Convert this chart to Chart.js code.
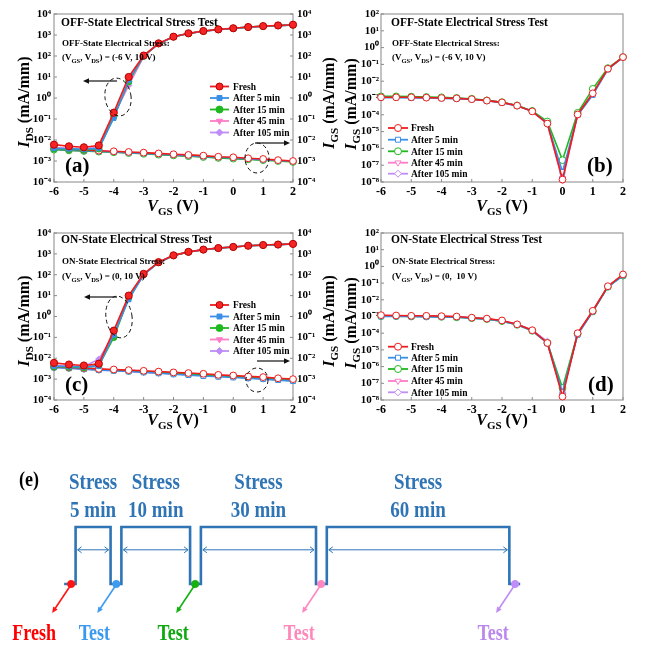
<!DOCTYPE html>
<html><head><meta charset="utf-8">
<script src="https://cdn.jsdelivr.net/npm/chart.js@4/dist/chart.umd.min.js"></script>
<style>
html,body{margin:0;padding:0;background:#fff;width:646px;height:647px;overflow:hidden}
#wrap{position:relative;width:646px;height:647px}
canvas{position:absolute;left:0;top:0}
</style></head><body>
<div id="wrap">
<canvas id="ca" width="646" height="647"></canvas>
<canvas id="cb" width="646" height="647"></canvas>
<canvas id="cc" width="646" height="647"></canvas>
<canvas id="cd" width="646" height="647"></canvas>
<canvas id="ce" width="646" height="647"></canvas>
</div>
<script>
// ---------------- DATA ----------------
const vgs = [-6,-5.5,-5,-4.5,-4,-3.5,-3,-2.5,-2,-1.5,-1,-0.5,0,0.5,1,1.5,2];
const xTicks = [-6,-5,-4,-3,-2,-1,0,1,2];
const idsTicks = [1e-4,1e-3,1e-2,1e-1,1e0,1e1,1e2,1e3,1e4];
const igsTicks = [1e-8,1e-7,1e-6,1e-5,1e-4,1e-3,1e-2,1e-1,1e0,1e1,1e2];
const seriesNames = ['Fresh','After 5 min','After 15 min','After 45 min','After 105 min'];

// (a) OFF-state stress: I_DS (left axis)
const offIdsFresh = [6.0e-3,5.0e-3,4.5e-3,5.5e-3,0.20,10,105,400,830,1200,1550,1850,2100,2400,2650,2850,3100];
const offIds5     = [4.0e-3,3.8e-3,3.6e-3,4.0e-3,0.11,7,100,390,820,1180,1520,1820,2060,2360,2600,2800,3000];
const offIds15    = [3.8e-3,3.6e-3,3.4e-3,3.8e-3,0.13,6,98,390,820,1180,1520,1820,2060,2360,2600,2800,3000];
const offIds45    = [4.0e-3,3.8e-3,3.6e-3,4.2e-3,0.14,4.5,95,385,815,1170,1510,1810,2050,2350,2600,2800,3000];
const offIds105   = [4.2e-3,4.0e-3,3.8e-3,4.5e-3,0.15,4.0,95,385,815,1170,1510,1810,2050,2350,2600,2800,3000];
// (a) OFF-state stress: I_GS (right axis)
const offIgsDsFresh = [4.0e-3,3.7e-3,3.4e-3,3.1e-3,2.9e-3,2.7e-3,2.5e-3,2.3e-3,2.1e-3,1.95e-3,1.8e-3,1.6e-3,1.5e-3,1.35e-3,1.25e-3,1.1e-3,1.0e-3];
const offIgsDs5     = [3.7e-3,3.4e-3,3.1e-3,2.9e-3,2.7e-3,2.5e-3,2.3e-3,2.1e-3,1.95e-3,1.8e-3,1.65e-3,1.5e-3,1.4e-3,1.25e-3,1.15e-3,1.05e-3,9.5e-4];
const offIgsDs15    = [3.5e-3,3.2e-3,3.0e-3,2.8e-3,2.6e-3,2.4e-3,2.2e-3,2.0e-3,1.85e-3,1.7e-3,1.55e-3,1.4e-3,1.3e-3,1.2e-3,1.1e-3,1.0e-3,9.0e-4];
const offIgsDs45    = [3.6e-3,3.3e-3,3.1e-3,2.9e-3,2.7e-3,2.5e-3,2.3e-3,2.1e-3,1.9e-3,1.75e-3,1.6e-3,1.45e-3,1.35e-3,1.25e-3,1.15e-3,1.05e-3,9.5e-4];
const offIgsDs105   = [3.6e-3,3.3e-3,3.1e-3,2.9e-3,2.7e-3,2.5e-3,2.3e-3,2.1e-3,1.9e-3,1.75e-3,1.6e-3,1.45e-3,1.35e-3,1.25e-3,1.15e-3,1.05e-3,9.5e-4];

// (b) OFF-state stress: I_GS
const offIgsFresh = [1.1e-3,1.1e-3,1.1e-3,1.05e-3,1.0e-3,9.5e-4,8.5e-4,7.0e-4,5.5e-4,3.5e-4,1.6e-4,3.0e-5,1.4e-8,1.05e-4,1.9e-3,5.5e-2,0.27];
const offIgs5     = [1.05e-3,1.05e-3,1.0e-3,1.0e-3,9.5e-4,9.0e-4,8.2e-4,6.8e-4,5.3e-4,3.4e-4,1.6e-4,3.2e-5,4.0e-8,9.5e-5,1.5e-3,5.0e-2,0.26];
const offIgs15    = [1.25e-3,1.25e-3,1.2e-3,1.15e-3,1.1e-3,1.0e-3,9.0e-4,7.2e-4,5.6e-4,3.6e-4,1.7e-4,4.0e-5,2.0e-7,1.3e-4,3.5e-3,6.0e-2,0.27];
const offIgs45    = [1.1e-3,1.1e-3,1.1e-3,1.05e-3,1.0e-3,9.5e-4,8.5e-4,7.0e-4,5.5e-4,3.5e-4,1.6e-4,3.0e-5,1.2e-8,1.0e-4,1.8e-3,5.5e-2,0.27];
const offIgs105   = [1.1e-3,1.1e-3,1.1e-3,1.05e-3,1.0e-3,9.5e-4,8.5e-4,7.0e-4,5.5e-4,3.5e-4,1.6e-4,3.0e-5,2.0e-8,1.0e-4,1.8e-3,5.5e-2,0.27];

// (c) ON-state stress: I_DS (left axis)
const onIdsFresh = [6.0e-3,5.0e-3,4.5e-3,5.5e-3,0.21,10,110,400,850,1250,1600,1900,2150,2450,2650,2800,3000];
const onIds5     = [4.2e-3,4.0e-3,3.8e-3,4.2e-3,0.13,6.5,100,390,840,1230,1580,1880,2130,2430,2630,2780,2980];
const onIds15    = [4.0e-3,3.8e-3,3.6e-3,4.5e-3,0.10,8,100,390,840,1230,1580,1880,2130,2430,2630,2780,2980];
const onIds45    = [4.2e-3,4.0e-3,3.8e-3,5.0e-3,0.12,8,100,390,840,1230,1580,1880,2130,2430,2630,2780,2980];
const onIds105   = [4.5e-3,4.2e-3,4.0e-3,9.0e-3,0.13,8,100,390,840,1230,1580,1880,2130,2430,2630,2780,2980];
// (c) ON-state stress: I_GS (right axis)
const onIgsDsFresh = [4.0e-3,3.7e-3,3.4e-3,3.1e-3,2.9e-3,2.7e-3,2.5e-3,2.3e-3,2.1e-3,1.95e-3,1.8e-3,1.6e-3,1.5e-3,1.35e-3,1.25e-3,1.1e-3,1.0e-3];
const onIgsDs5     = [3.6e-3,3.3e-3,3.0e-3,2.7e-3,2.5e-3,2.3e-3,2.1e-3,1.9e-3,1.7e-3,1.55e-3,1.4e-3,1.3e-3,1.2e-3,1.1e-3,1.0e-3,9.0e-4,8.0e-4];
const onIgsDs15    = [3.8e-3,3.5e-3,3.2e-3,2.9e-3,2.7e-3,2.5e-3,2.3e-3,2.1e-3,1.9e-3,1.75e-3,1.6e-3,1.45e-3,1.35e-3,1.2e-3,1.1e-3,1.0e-3,8.8e-4];
const onIgsDs45    = [3.7e-3,3.4e-3,3.1e-3,2.8e-3,2.6e-3,2.4e-3,2.2e-3,2.0e-3,1.8e-3,1.65e-3,1.5e-3,1.4e-3,1.3e-3,1.15e-3,1.05e-3,9.5e-4,8.5e-4];
const onIgsDs105   = [3.7e-3,3.4e-3,3.1e-3,2.8e-3,2.6e-3,2.4e-3,2.2e-3,2.0e-3,1.8e-3,1.65e-3,1.5e-3,1.4e-3,1.3e-3,1.15e-3,1.05e-3,9.5e-4,8.5e-4];

// (d) ON-state stress: I_GS
const onIgsFresh = [1.2e-3,1.15e-3,1.1e-3,1.1e-3,1.05e-3,1.0e-3,8.5e-4,7.5e-4,5.8e-4,3.4e-4,1.5e-4,2.6e-5,1.6e-8,1.0e-4,2.2e-3,6.5e-2,0.33];
const onIgs5     = [1.0e-3,1.0e-3,1.0e-3,9.5e-4,9.5e-4,9.0e-4,8.0e-4,7.0e-4,5.3e-4,3.2e-4,1.4e-4,2.5e-5,3.0e-8,8.0e-5,2.0e-3,6.0e-2,0.28];
const onIgs15    = [1.05e-3,1.05e-3,1.0e-3,1.0e-3,9.5e-4,9.0e-4,8.0e-4,7.0e-4,5.3e-4,3.2e-4,1.4e-4,2.6e-5,5.2e-8,9.0e-5,2.0e-3,6.0e-2,0.28];
const onIgs45    = [1.15e-3,1.1e-3,1.1e-3,1.05e-3,1.0e-3,9.5e-4,8.5e-4,7.3e-4,5.6e-4,3.4e-4,1.5e-4,2.8e-5,2.0e-8,9.5e-5,2.1e-3,6.2e-2,0.3];
const onIgs105   = [1.15e-3,1.1e-3,1.1e-3,1.05e-3,1.0e-3,9.5e-4,8.5e-4,7.3e-4,5.6e-4,3.4e-4,1.5e-4,3.2e-5,2.5e-8,9.5e-5,2.1e-3,6.2e-2,0.3];

// (e) stress/test sequence (schematic time axis, 0-100)
const waveX     = [9.3,11.1,16.6,18.3,29.1,30.8,48.9,50.6,79.3,81.0];
const waveLevel = [0,1,0,1,0,1,0,1,0,0];
const stressStart = [11.1,18.3,30.8,50.6];
const stressEnd   = [16.6,29.1,48.9,79.3];
const stressLabels = ['5 min','10 min','30 min','60 min'];
const testX      = [10.4,17.5,29.9,49.7,80.2];
const testLabels = ['Fresh','Test','Test','Test','Test'];

// ---------------- STYLE ----------------
const FONT = "'Liberation Serif','Times New Roman',serif";
const colors  = ['#ee1c1c','#3a8fe8','#1fb81f','#ff7cc8','#bf8cf8'];
const markers = ['circle','rect','circle','triangle','rectRot'];
const testColors = ['#ff1414','#3d9bf0','#14b014','#ff88c0','#c08cf5'];
const testTextColors = ['#ff0000','#3a98ee','#10a810','#ff88bb','#bb88ee'];
const BLUE = '#2f74b5';

const SUP = {'-':'\u207B','0':'\u2070','1':'\u00B9','2':'\u00B2','3':'\u00B3','4':'\u2074','5':'\u2075','6':'\u2076','7':'\u2077','8':'\u2078','9':'\u2079'};
const sup = v => '10' + String(Math.round(Math.log10(v))).split('').map(c=>SUP[c]).join('');
const pts = arr => vgs.map((x,k)=>({x, y:arr[k]}));

function filledSet(i, arr, axis){
  return {label:seriesNames[i], data:pts(arr), yAxisID:axis, showLine:true,
    borderColor:colors[i], backgroundColor:colors[i],
    pointBackgroundColor: i===0?'#f52525':colors[i], pointBorderColor: i===0?'#b80000':colors[i],
    pointStyle:markers[i], rotation: i===3?180:0, pointRadius: i===0?3.6:3.2, pointBorderWidth:1,
    borderWidth:1.6, clip:false};
}
function openSet(i, arr, axis){
  return {label:seriesNames[i], data:pts(arr), yAxisID:axis, showLine:true,
    borderColor:colors[i], backgroundColor:'#fff',
    pointBackgroundColor:'#fff', pointBorderColor:colors[i],
    pointStyle:markers[i], rotation: i===3?180:0, pointRadius:3.4, pointBorderWidth:1,
    borderWidth:1.6, clip:false};
}
function xAxis(){
  return {type:'linear', min:-6, max:2,
    afterFit(s){s.height=24;},
    afterBuildTicks(s){s.ticks = xTicks.map(v=>({value:v}));},
    ticks:{callback:v=>String(v), font:{family:FONT,size:12,weight:'bold'}, color:'#000', padding:3, maxRotation:0, autoSkip:false},
    grid:{display:false, drawTicks:false}, border:{display:false}};
}
function logAxis(pos, min, max, tickArr, pad, w){
  return {type:'logarithmic', position:pos, min, max,
    afterFit(s){s.width=w;},
    afterBuildTicks(s){s.ticks = tickArr.map(v=>({value:v}));},
    ticks:{callback:v=>sup(v), font:{family:FONT,size:11,weight:'bold'}, color:'#000', padding:pad, autoSkip:false},
    grid:{display:false, drawTicks:false}, border:{display:false}};
}

function rich(ctx, parts, x, y, o={}){
  const f = p => `${p[2]?'italic ':''}bold ${p[1]}px ${FONT}`;
  ctx.save();
  ctx.translate(x,y);
  if(o.rot) ctx.rotate(o.rot);
  if(o.sy) ctx.scale(1,o.sy);
  let w=0;
  parts.forEach(p=>{ctx.font=f(p); w+=ctx.measureText(p[0]).width;});
  let cx = o.align==='center'?-w/2:(o.align==='right'?-w:0);
  ctx.fillStyle=o.color||'#000'; ctx.textBaseline='alphabetic'; ctx.textAlign='left';
  parts.forEach(p=>{ctx.font=f(p); ctx.fillText(p[0],cx,p[3]||0); cx+=ctx.measureText(p[0]).width;});
  ctx.restore();
}
function arrowLine(ctx, x1,y1,x2,y2, color, lw, head){
  ctx.save();
  ctx.strokeStyle=color; ctx.fillStyle=color; ctx.lineWidth=lw;
  const a=Math.atan2(y2-y1,x2-x1);
  ctx.beginPath(); ctx.moveTo(x1,y1); ctx.lineTo(x2-Math.cos(a)*head*0.8,y2-Math.sin(a)*head*0.8); ctx.stroke();
  ctx.beginPath(); ctx.moveTo(x2,y2);
  ctx.lineTo(x2-head*Math.cos(a)+head*0.45*Math.sin(a), y2-head*Math.sin(a)-head*0.45*Math.cos(a));
  ctx.lineTo(x2-head*Math.cos(a)-head*0.45*Math.sin(a), y2-head*Math.sin(a)+head*0.45*Math.cos(a));
  ctx.closePath(); ctx.fill();
  ctx.restore();
}

function decor(cfg){
  return {
    id:'decor',
    beforeDatasetsDraw(chart){
      const ctx=chart.ctx, ca=chart.chartArea;
      ctx.save();
      ctx.strokeStyle='#a3a3a3'; ctx.lineWidth=1.3;
      ctx.strokeRect(ca.left,ca.top,ca.right-ca.left,ca.bottom-ca.top);
      ctx.strokeStyle='#8a8a8a'; ctx.lineWidth=1;
      Object.values(chart.scales).forEach(s=>{
        s.ticks.forEach(t=>{
          const p=s.getPixelForValue(t.value);
          ctx.beginPath();
          if(s.axis==='x'){ctx.moveTo(p,ca.bottom);ctx.lineTo(p,ca.bottom-3);}
          else if(s.position==='left'){ctx.moveTo(ca.left,p);ctx.lineTo(ca.left+3,p);}
          else {ctx.moveTo(ca.right,p);ctx.lineTo(ca.right-3,p);}
          ctx.stroke();
        });
      });
      ctx.restore();
    },
    afterDatasetsDraw(chart){
      const ctx=chart.ctx;
      (cfg.texts||[]).forEach(t=>rich(ctx,t.parts,t.x,t.y,t));
      ctx.save();
      ctx.strokeStyle='#111'; ctx.lineWidth=1; ctx.setLineDash([4,3]);
      (cfg.ellipses||[]).forEach(e=>{ctx.beginPath();ctx.ellipse(e.cx,e.cy,e.rx,e.ry,e.r||0,0,Math.PI*2);ctx.stroke();});
      ctx.restore();
      (cfg.arrows||[]).forEach(a=>arrowLine(ctx,a.x1,a.y1,a.x2,a.y2,'#111',1.2,6));
      const L=cfg.legend;
      if(L){
        L.ys.forEach((y,k)=>{
          const ds=chart.data.datasets[L.sets[k]];
          ctx.save();
          ctx.strokeStyle=ds.borderColor; ctx.lineWidth=1.8;
          ctx.beginPath(); ctx.moveTo(L.x1,y); ctx.lineTo(L.x2,y); ctx.stroke();
          ctx.fillStyle=ds.pointBackgroundColor; ctx.strokeStyle=ds.pointBorderColor; ctx.lineWidth=1;
          Chart.helpers.drawPoint(ctx,{pointStyle:ds.pointStyle,radius:3.5,rotation:ds.rotation||0,borderWidth:1},(L.x1+L.x2)/2,y);
          ctx.restore();
          rich(ctx,[[ds.label,L.size]],L.tx,y+3.3);
        });
      }
    }
  };
}

const titleSub = (a)=>[['(V',9],['GS',6.5,false,2.5],[', V',9],['DS',6.5,false,2.5],[a,9]];

function baseOptions(pad){
  return {responsive:false, animation:false, devicePixelRatio:1,
    layout:{padding:pad},
    plugins:{legend:{display:false}, tooltip:{enabled:false}}};
}

// ---------- (a) ---------- plot area x 54..293, y 14..182
(function(){
  const o=baseOptions({left:0,top:14,right:293,bottom:441});
  o.scales={x:xAxis(), y:logAxis('left',1e-4,1e4,idsTicks,3,54), y2:logAxis('right',1e-4,1e4,idsTicks,4,60)};
  new Chart(document.getElementById('ca'),{type:'scatter',
    data:{datasets:[
      filledSet(0,offIdsFresh,'y'),filledSet(1,offIds5,'y'),filledSet(2,offIds15,'y'),filledSet(3,offIds45,'y'),filledSet(4,offIds105,'y'),
      openSet(0,offIgsDsFresh,'y2'),openSet(1,offIgsDs5,'y2'),openSet(2,offIgsDs15,'y2'),openSet(3,offIgsDs45,'y2'),openSet(4,offIgsDs105,'y2')]},
    options:o,
    plugins:[decor({
      texts:[
        {parts:[['OFF-State Electrical Stress Test',11.5]],x:61,y:26},
        {parts:[['OFF-State Electrical Stress:',9]],x:62,y:46},
        {parts:titleSub(') = (-6 V, 10 V)'),x:62,y:60},
        {parts:[['(a)',21]],x:65,y:172},
        {parts:[['V',16,true],['GS',11,false,4],[' (V)',16]],x:173,y:211,align:'center'},
        {parts:[['I',16,true],['DS',11,false,4],[' (mA/mm)',16]],x:29,y:102,align:'center',rot:-Math.PI/2},
        {parts:[['I',16,true],['GS',11,false,4],[' (mA/mm)',16]],x:334,y:103,align:'center',rot:-Math.PI/2}
      ],
      ellipses:[{cx:118,cy:97,rx:13,ry:19,r:-0.15},{cx:257,cy:158,rx:12,ry:15}],
      arrows:[{x1:117,y1:81,x2:83,y2:81},{x1:255,y1:143,x2:290,y2:143}],
      legend:{x1:210,x2:229,tx:233,ys:[86.5,98,109.5,121,132.5],size:9.5,sets:[0,1,2,3,4]}
    })]
  });
})();

// ---------- (b) ---------- plot area x 381..623, y 14..182
(function(){
  const o=baseOptions({left:341,top:14,right:23,bottom:441});
  o.scales={x:xAxis(), y:logAxis('left',1e-8,1e2,igsTicks,2,40)};
  new Chart(document.getElementById('cb'),{type:'scatter',
    data:{datasets:[openSet(0,offIgsFresh,'y'),openSet(1,offIgs5,'y'),openSet(2,offIgs15,'y'),openSet(3,offIgs45,'y'),openSet(4,offIgs105,'y')]},
    options:o,
    plugins:[decor({
      texts:[
        {parts:[['OFF-State Electrical Stress Test',11.5]],x:391,y:26},
        {parts:[['OFF-State Electrical Stress:',9]],x:392,y:46},
        {parts:titleSub(') = (-6 V, 10 V)'),x:392,y:60},
        {parts:[['(b)',21]],x:587,y:172},
        {parts:[['V',16,true],['GS',11,false,4],[' (V)',16]],x:502,y:211,align:'center'},
        {parts:[['I',16,true],['GS',11,false,4],[' (mA/mm)',16]],x:356,y:104,align:'center',rot:-Math.PI/2}
      ],
      legend:{x1:388,x2:408,tx:411,ys:[128,139.7,151.3,162.7,173.7],size:9.5,sets:[0,1,2,3,4]}
    })]
  });
})();

// ---------- (c) ---------- plot area x 54..293, y 233..400
(function(){
  const o=baseOptions({left:0,top:233,right:293,bottom:223});
  o.scales={x:xAxis(), y:logAxis('left',1e-4,1e4,idsTicks,3,54), y2:logAxis('right',1e-4,1e4,idsTicks,4,60)};
  new Chart(document.getElementById('cc'),{type:'scatter',
    data:{datasets:[
      filledSet(0,onIdsFresh,'y'),filledSet(1,onIds5,'y'),filledSet(2,onIds15,'y'),filledSet(3,onIds45,'y'),filledSet(4,onIds105,'y'),
      openSet(0,onIgsDsFresh,'y2'),openSet(1,onIgsDs5,'y2'),openSet(2,onIgsDs15,'y2'),openSet(3,onIgsDs45,'y2'),openSet(4,onIgsDs105,'y2')]},
    options:o,
    plugins:[decor({
      texts:[
        {parts:[['ON-State Electrical Stress Test',11.5]],x:61,y:243},
        {parts:[['ON-State Electrical Stress:',9]],x:62,y:264},
        {parts:titleSub(') = (0, 10 V)'),x:62,y:279},
        {parts:[['(c)',21]],x:65,y:391},
        {parts:[['V',16,true],['GS',11,false,4],[' (V)',16]],x:173,y:425,align:'center'},
        {parts:[['I',16,true],['DS',11,false,4],[' (mA/mm)',16]],x:29,y:321,align:'center',rot:-Math.PI/2},
        {parts:[['I',16,true],['GS',11,false,4],[' (mA/mm)',16]],x:334,y:321,align:'center',rot:-Math.PI/2}
      ],
      ellipses:[{cx:119,cy:317,rx:13,ry:21,r:-0.15},{cx:257,cy:380,rx:11,ry:12}],
      arrows:[{x1:117,y1:297,x2:84,y2:297},{x1:257,y1:361,x2:290,y2:361}],
      legend:{x1:210,x2:229,tx:233,ys:[305,316.5,328,339.5,351],size:9.5,sets:[0,1,2,3,4]}
    })]
  });
})();

// ---------- (d) ---------- plot area x 381..623, y 233..400
(function(){
  const o=baseOptions({left:341,top:233,right:23,bottom:223});
  o.scales={x:xAxis(), y:logAxis('left',1e-8,1e2,igsTicks,2,40)};
  new Chart(document.getElementById('cd'),{type:'scatter',
    data:{datasets:[openSet(0,onIgsFresh,'y'),openSet(1,onIgs5,'y'),openSet(2,onIgs15,'y'),openSet(3,onIgs45,'y'),openSet(4,onIgs105,'y')]},
    options:o,
    plugins:[decor({
      texts:[
        {parts:[['ON-State Electrical Stress Test',11.5]],x:391,y:243},
        {parts:[['ON-State Electrical Stress:',9]],x:392,y:264},
        {parts:titleSub(') = (0,  10 V)'),x:392,y:279},
        {parts:[['(d)',21]],x:588,y:391},
        {parts:[['V',16,true],['GS',11,false,4],[' (V)',16]],x:502,y:425,align:'center'},
        {parts:[['I',16,true],['GS',11,false,4],[' (mA/mm)',16]],x:356,y:323,align:'center',rot:-Math.PI/2}
      ],
      legend:{x1:388,x2:408,tx:411,ys:[346.7,357.7,369,381,392.3],size:9.5,sets:[0,1,2,3,4]}
    })]
  });
})();

// ---------- (e) ----------
(function(){
  const o=baseOptions({left:0,top:527,right:0,bottom:63});
  o.scales={x:{type:'linear',min:0,max:100,display:false}, y:{type:'linear',min:0,max:1,display:false}};
  const seq={
    id:'seq',
    afterDatasetsDraw(chart){
      const ctx=chart.ctx, xs=chart.scales.x, ys=chart.scales.y;
      const yLow=ys.getPixelForValue(0), yArr=ys.getPixelForValue(0.6);
      stressStart.forEach((s,k)=>{
        const a=xs.getPixelForValue(s), b=xs.getPixelForValue(stressEnd[k]), cx=(a+b)/2;
        rich(ctx,[['Stress',19]],cx,489,{align:'center',sy:1.2,color:BLUE});
        rich(ctx,[[stressLabels[k],19]],cx,517,{align:'center',sy:1.2,color:BLUE});
        ctx.save(); ctx.strokeStyle=BLUE; ctx.lineWidth=1;
        ctx.beginPath(); ctx.moveTo(a+2,yArr); ctx.lineTo(b-2,yArr);
        ctx.moveTo(a+6,yArr-3); ctx.lineTo(a+2,yArr); ctx.lineTo(a+6,yArr+3);
        ctx.moveTo(b-6,yArr-3); ctx.lineTo(b-2,yArr); ctx.lineTo(b-6,yArr+3);
        ctx.stroke(); ctx.restore();
      });
      testX.forEach((t,k)=>{
        const px=xs.getPixelForValue(t);
        arrowLine(ctx,px-1,yLow+2,px-19,yLow+29,testColors[k],1.6,6);
        rich(ctx,[[testLabels[k],18]],px-(k===0?37:22),640,{align:'center',sy:1.25,color:testTextColors[k]});
      });
      rich(ctx,[['(e)',18]],29,486,{align:'center',sy:1.2});
    }
  };
  new Chart(document.getElementById('ce'),{type:'scatter',
    data:{datasets:[
      {label:'Test points',data:testX.map(x=>({x,y:0})),pointRadius:3.6,pointBackgroundColor:testColors,pointBorderColor:testColors,showLine:false,clip:false},
      {label:'Stress sequence',data:waveX.map((x,k)=>({x,y:waveLevel[k]})),showLine:true,stepped:'before',borderColor:BLUE,borderWidth:2.6,pointRadius:0,clip:false}
    ]},
    options:o,
    plugins:[seq]
  });
})();
</script>
</body></html>
